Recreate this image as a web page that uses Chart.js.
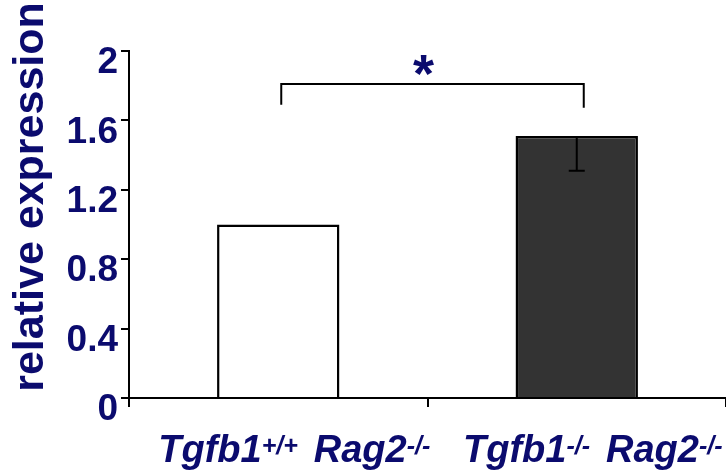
<!DOCTYPE html>
<html>
<head>
<meta charset="utf-8">
<script src="https://cdn.jsdelivr.net/npm/chart.js@4.4.1/dist/chart.umd.min.js"></script>
<style>
  html, body { margin: 0; padding: 0; background: #fff; }
</style>
</head>
<body>
<canvas id="chart" width="726" height="472"></canvas>
<script>
// expressão relativa
const categories = ['Tgfb1+/+ Rag2-/-', 'Tgfb1-/- Rag2-/-'];
const labelMain = [['Tgfb1', 'Rag2'], ['Tgfb1', 'Rag2']];
const labelSup = [['+/+', '-/-'], ['-/-', '-/-']];
const values = [1.0, 1.51];
const errorLow = [null, 1.31];
const barColors = ['#ffffff', '#333333'];
const yTicks = [0, 0.4, 0.8, 1.2, 1.6, 2];
const yTickLabels = ['0', '0.4', '0.8', '1.2', '1.6', '2'];
const bracketLevel = [1.81];
const bracketFoot = [1.69];
const signifMark = '*';
const yTitle = 'relative expression';

const NAVY = '#0b0b6e';
const FONT = '"Liberation Sans", Arial, sans-serif';

const annotations = {
  id: 'annotations',
  afterDatasetsDraw(chart) {
    const { ctx } = chart;
    const x = chart.scales.x;
    const y = chart.scales.y;

    // barra de erro (só a parte de baixo aparece)
    ctx.save();
    ctx.strokeStyle = '#000';
    ctx.lineWidth = 2;
    errorLow.forEach((low, i) => {
      if (low == null) return;
      const cx = x.getPixelForValue(i);
      const top = y.getPixelForValue(values[i]) + 2;
      const bot = y.getPixelForValue(low);
      ctx.beginPath();
      ctx.moveTo(cx, top);
      ctx.lineTo(cx, bot);
      ctx.moveTo(cx - 8, bot);
      ctx.lineTo(cx + 8, bot);
      ctx.stroke();
    });

    // colchete de significância
    const x0 = x.getPixelForValue(0) + 3;
    const x1 = x.getPixelForValue(1) + 7;
    const yb = y.getPixelForValue(bracketLevel[0]);
    const yf = y.getPixelForValue(bracketFoot[0]);
    ctx.beginPath();
    ctx.moveTo(x0, yf);
    ctx.lineTo(x0, yb);
    ctx.lineTo(x1, yb);
    ctx.lineTo(x1, yf + 3);
    ctx.stroke();

    ctx.fillStyle = NAVY;
    ctx.font = 'bold 54px ' + FONT;
    ctx.textAlign = 'center';
    ctx.textBaseline = 'alphabetic';
    ctx.fillText(signifMark, (x0 + x1) / 2 - 9, yb + 8);
    ctx.restore();
  },
  afterDraw(chart) {
    const { ctx } = chart;
    const x = chart.scales.x;
    const y = chart.scales.y;
    ctx.save();
    ctx.fillStyle = NAVY;

    // rótulos do eixo x com sobrescrito
    const base = y.getPixelForValue(0) + 64;
    const mainFont = 'italic bold 38px ' + FONT;
    const supFont = 'italic bold 25px ' + FONT;
    const gap = 16;
    categories.forEach((cat, i) => {
      const parts = [];
      labelMain[i].forEach((m, k) => {
        parts.push({ t: m, f: mainFont, dy: 0 });
        parts.push({ t: labelSup[i][k], f: supFont, dy: -8 });
      });
      let total = 0;
      parts.forEach((p) => {
        ctx.font = p.f;
        p.w = ctx.measureText(p.t).width;
        total += p.w;
      });
      total += gap;
      let cx = x.getPixelForValue(i) + 16 - total / 2;
      ctx.textAlign = 'left';
      ctx.textBaseline = 'alphabetic';
      parts.forEach((p, k) => {
        ctx.font = p.f;
        ctx.fillText(p.t, cx, base + p.dy);
        cx += p.w + (k === 1 ? gap : 0);
      });
    });

    // título do eixo y
    ctx.translate(43, 197);
    ctx.rotate(-Math.PI / 2);
    ctx.font = 'bold 43px ' + FONT;
    ctx.textAlign = 'center';
    ctx.textBaseline = 'alphabetic';
    ctx.fillText(yTitle, 0, 0);
    ctx.restore();
  },
};

new Chart(document.getElementById('chart'), {
  type: 'bar',
  data: {
    labels: categories,
    datasets: [{
      data: values,
      backgroundColor: barColors,
      borderColor: '#000',
      borderWidth: 2.5,
      barPercentage: 0.41,
      categoryPercentage: 1,
    }],
  },
  options: {
    responsive: false,
    animation: false,
    devicePixelRatio: 1,
    layout: { padding: { top: 51, right: 0, left: 0, bottom: 0 } },
    plugins: { legend: { display: false }, tooltip: { enabled: false } },
    scales: {
      x: {
        afterFit: (s) => { s.height = 74; },
        grid: { display: true, offset: true, drawOnChartArea: false, drawTicks: true, tickLength: 9, color: '#000', lineWidth: 2 },
        border: { display: true, color: '#000', width: 2 },
        ticks: { display: false },
      },
      y: {
        min: 0,
        max: 2,
        afterFit: (s) => { s.width = 129; },
        afterBuildTicks: (s) => { s.ticks = yTicks.map((v) => ({ value: v })); },
        grid: { display: true, drawOnChartArea: false, drawTicks: true, tickLength: 8, color: '#000', lineWidth: 2 },
        border: { display: true, color: '#000', width: 2 },
        ticks: {
          color: NAVY,
          font: { family: FONT, size: 37, weight: 'bold' },
          padding: 3,
          labelOffset: 12,
          callback: (v, i) => yTickLabels[i],
        },
      },
    },
  },
  plugins: [annotations],
});
</script>
</body>
</html>
